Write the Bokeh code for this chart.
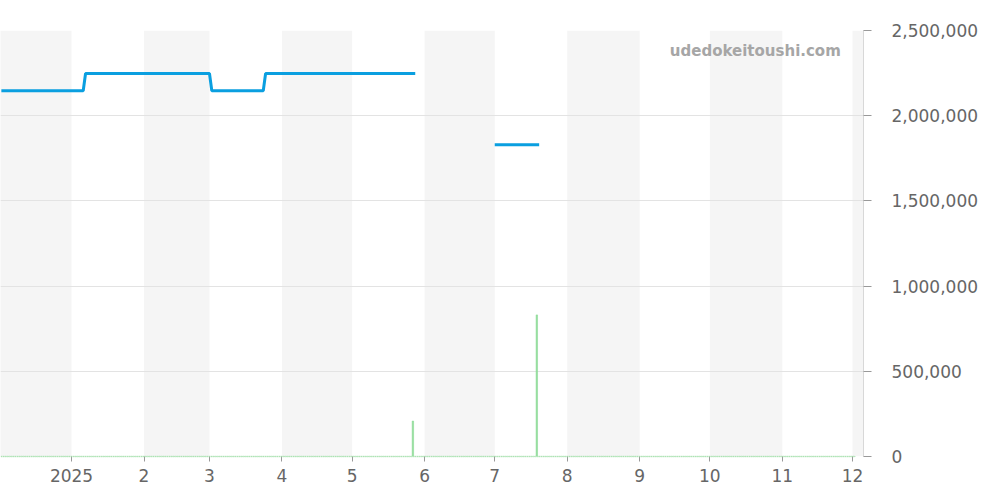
import numpy as np
import pandas as pd
from bokeh.plotting import figure
from bokeh.models import (ColumnDataSource, Range1d, FixedTicker, NumeralTickFormatter,
                          CustomJSTickFormatter, Label)
from bokeh.embed import file_html
from bokeh.resources import INLINE

# ---- data ----
price_dates = ["2024-12-02", "2025-01-06", "2025-01-07", "2025-03-01", "2025-03-02",
               "2025-03-24", "2025-03-25", "2025-05-28", "2025-06-15",
               "2025-07-01", "2025-07-20"]
price_values = [2146000, 2146000, 2248000, 2248000, 2146000,
                2146000, 2248000, 2248000, np.nan,
                1829000, 1829000]

volume_dates = ["2025-05-27", "2025-07-19"]
volume_values = [208000, 831000]
volume_span = ("2024-12-02", "2025-12-02")   # days with (mostly zero) volume records

month_starts = ["2024-12-01", "2025-01-01", "2025-02-01", "2025-03-01", "2025-04-01",
                "2025-05-01", "2025-06-01", "2025-07-01", "2025-08-01", "2025-09-01",
                "2025-10-01", "2025-11-01", "2025-12-01", "2026-01-01"]
y_ticks = [0, 500000, 1000000, 1500000, 2000000, 2500000]
watermark = "udedokeitoushi.com"

FONT = "DejaVu Sans"

def ms(s):
    return pd.Timestamp(s).value / 1e6

# ---- figure ----
p = figure(width=984, height=484, x_axis_type="datetime", y_axis_location="right",
           output_backend="svg", toolbar_location=None,
           min_border_left=0, min_border_top=30, min_border_right=121, min_border_bottom=20)
p.x_range = Range1d(start=ms("2024-12-01") + 15 * 3600e3, end=ms("2025-12-05") + 17 * 3600e3)
p.y_range = Range1d(start=0, end=2500000)
p.outline_line_color = None
p.background_fill_color = "white"

# alternating month bands (even months + December shaded)
band_l, band_r = [], []
for i in range(len(month_starts) - 1):
    m = pd.Timestamp(month_starts[i]).month
    if m % 2 == 0:
        band_l.append(ms(month_starts[i]))
        band_r.append(ms(month_starts[i + 1]))
p.quad(left=band_l, right=band_r, bottom=0, top=2500000, fill_color="#f5f5f5",
       line_color=None, level="image")

# volume bars (daily)
days = pd.date_range(volume_span[0], volume_span[1], freq="D")
vol = pd.Series(0.0, index=days)
for d, v in zip(volume_dates, volume_values):
    vol[pd.Timestamp(d)] = v
vsrc = ColumnDataSource(dict(x=[t.value / 1e6 for t in vol.index], top=vol.values))
p.vbar(x="x", top="top", bottom=0, width=0.6 * 86400e3, source=vsrc,
       fill_color="#8fdc98", line_color="#8fdc98", line_width=0.6)
# faint baseline of the daily (zero) volume records
p.line(x=[ms(volume_span[0]), ms(volume_span[1])], y=[0, 0], line_color="#9fdca6",
       line_width=1.5, line_dash="1 1", level="overlay")

# price line
psrc = ColumnDataSource(dict(x=[ms(d) for d in price_dates], y=price_values))
p.line(x="x", y="y", source=psrc, line_color="#0a9fe0", line_width=3)

# watermark
p.add_layout(Label(x=ms("2025-11-26"), y=2379000, text=watermark, text_align="right",
                   text_baseline="middle", text_font=FONT, text_font_style="bold",
                   text_font_size="15px", text_color="#a6a6a6"))

# grid
p.xgrid.grid_line_color = None
p.ygrid.grid_line_color = "#e3e3e3"
p.ygrid.ticker = FixedTicker(ticks=y_ticks)

# y axis
ya = p.yaxis[0]
ya.ticker = FixedTicker(ticks=y_ticks)
ya.formatter = NumeralTickFormatter(format="0,0")
ya.axis_line_color = "#d8d8d8"
ya.major_tick_line_color = "#999999"
ya.major_tick_out = 8
ya.major_tick_in = 0
ya.minor_tick_line_color = None
ya.major_label_standoff = 20
ya.major_label_text_font = FONT
ya.major_label_text_font_size = "17px"
ya.major_label_text_color = "#666666"

# x axis
xa = p.xaxis[0]
xa.ticker = FixedTicker(ticks=[ms(s) for s in month_starts[1:-1]])
xa.formatter = CustomJSTickFormatter(code="""
const d = new Date(tick);
const m = d.getUTCMonth() + 1;
return m === 1 ? String(d.getUTCFullYear()) : String(m);
""")
xa.axis_line_color = None
xa.major_tick_line_color = "#999999"
xa.major_tick_out = 5
xa.major_tick_in = 0
xa.minor_tick_line_color = None
xa.major_label_standoff = 7
xa.major_label_text_font = FONT
xa.major_label_text_font_size = "17px"
xa.major_label_text_color = "#666666"

open("out.html", "w").write(file_html(p, INLINE))
